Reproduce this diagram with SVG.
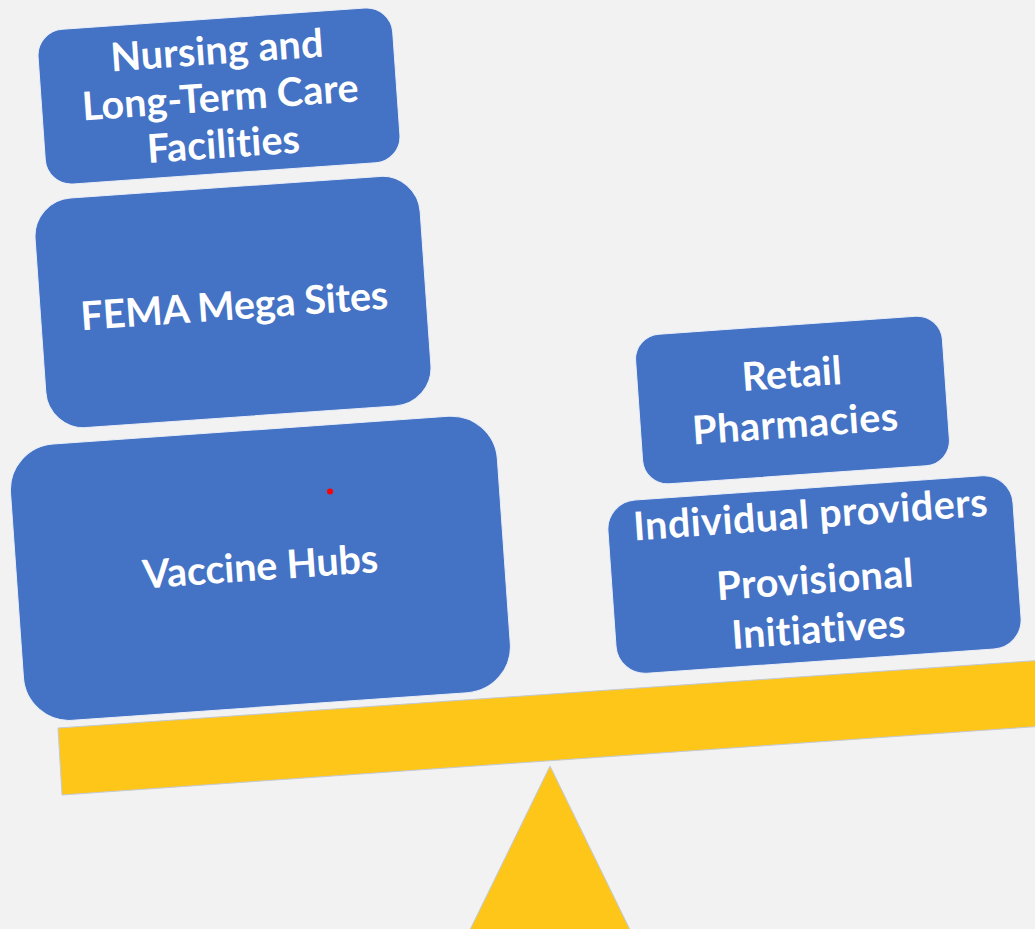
<svg xmlns="http://www.w3.org/2000/svg" width="1035" height="929" viewBox="0 0 1035 929">
  <style>
    .box { fill: #4472C4; stroke: #e9eef8; stroke-width: 1; }
    .lbl { font-family: Lato, "Open Sans", "DejaVu Sans", sans-serif; font-weight: 700; font-size: 39.5px; fill: #FFFFFF; text-anchor: middle; font-variant-ligatures: none; font-feature-settings: "liga" 0, "clig" 0; }
    .gold { fill: #FEC619; stroke: #c3c9d6; stroke-width: 1; }
  </style>
  <rect x="0" y="0" width="1035" height="929" fill="#F2F2F2"/>

  <g id="fulcrum">
    <polygon class="gold" points="550,766 466,938 634,938"/>
  </g>
  <g id="beam">
    <polygon class="gold" points="58,728 1045,660 1045,726 62,795"/>
  </g>

  <g id="nursing" transform="translate(219,96) rotate(-4)">
    <rect class="box" x="-177.75" y="-77.5" width="355.5" height="155" rx="26" ry="26"/>
    <text class="lbl" x="1" y="-32" textLength="213" lengthAdjust="spacing">Nursing and</text>
    <text class="lbl" x="1" y="15" textLength="277" lengthAdjust="spacing">Long-Term Care</text>
    <text class="lbl" x="1" y="62" textLength="153" lengthAdjust="spacing">Facilities</text>
  </g>

  <g id="fema" transform="translate(233,302) rotate(-4)">
    <rect class="box" x="-193" y="-115" width="386" height="230" rx="38" ry="38"/>
    <text class="lbl" x="1" y="17.5" textLength="308" lengthAdjust="spacing">FEMA Mega Sites</text>
  </g>

  <g id="vaccine" transform="translate(260.4,568.3) rotate(-4)">
    <rect class="box" x="-244" y="-138.5" width="488" height="277" rx="46" ry="46"/>
    <text class="lbl" x="0" y="12" textLength="236" lengthAdjust="spacing">Vaccine Hubs</text>
  </g>

  <g id="retail" transform="translate(792.5,400) rotate(-4)">
    <rect class="box" x="-153.75" y="-75" width="307.5" height="150" rx="25" ry="25"/>
    <text class="lbl" x="1" y="-12.5" textLength="100" lengthAdjust="spacing">Retail</text>
    <text class="lbl" x="1" y="37.5" textLength="206" lengthAdjust="spacing">Pharmacies</text>
  </g>

  <g id="individual" transform="translate(814.5,574.5) rotate(-4)">
    <rect class="box" x="-203" y="-86.75" width="406" height="173.5" rx="29" ry="29"/>
    <text class="lbl" x="0" y="-46.5" textLength="355" lengthAdjust="spacing">Individual providers</text>
    <text class="lbl" x="0" y="19" textLength="197" lengthAdjust="spacing">Provisional</text>
    <text class="lbl" x="0" y="68.5" textLength="174" lengthAdjust="spacing">Initiatives</text>
  </g>

  <circle id="marker-dot" cx="330" cy="491.5" r="3" fill="#FF0000"/>

  <g id="connectors"></g>
</svg>
